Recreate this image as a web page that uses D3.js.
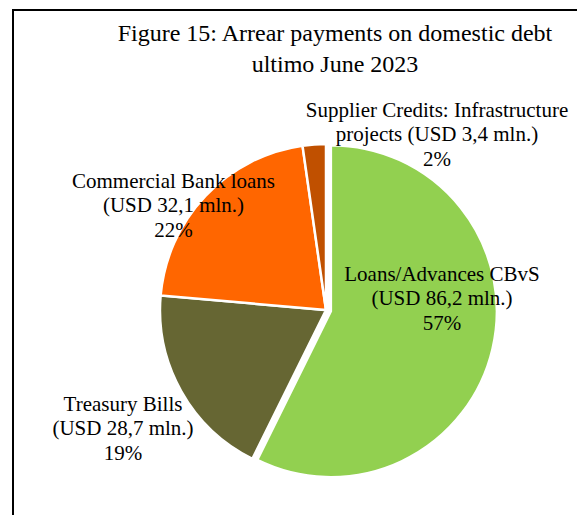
<!DOCTYPE html>
<html>
<head>
<meta charset="utf-8">
<script src="https://cdn.jsdelivr.net/npm/d3@7"></script>
<style>
  html, body { margin: 0; padding: 0; background: #fff; }
  svg { display: block; }
  text { font-family: "Liberation Serif", "Times New Roman", serif; fill: #000; }
</style>
</head>
<body>
<svg id="chart" width="577" height="515"></svg>
<script>
// Arrear payments on domestic debt, end of June 2023
const titleLines = ["Figure 15: Arrear payments on domestic debt", "ultimo June 2023"];
const categories = ["Loans/Advances CBvS", "Treasury Bills", "Commercial Bank loans", "Supplier Credits: Infrastructure projects"];
const amounts = [86.2, 28.7, 32.1, 3.4];            // USD mln.
const amountLabels = ["86,2", "28,7", "32,1", "3,4"];
const percentLabels = ["57%", "19%", "22%", "2%"];
const colors = ["#92D050", "#666633", "#FF6600", "#C05000"];

// label lines per slice (category name may wrap)
const labelLines = [
  ["Loans/Advances CBvS", "(USD " + amountLabels[0] + " mln.)", percentLabels[0]],
  ["Treasury Bills", "(USD " + amountLabels[1] + " mln.)", percentLabels[1]],
  ["Commercial Bank loans", "(USD " + amountLabels[2] + " mln.)", percentLabels[2]],
  ["Supplier Credits: Infrastructure", "projects (USD " + amountLabels[3] + " mln.)", percentLabels[3]]
];
const labelPos = [[442, 281], [123, 411], [173.5, 188], [437, 117]];

const svg = d3.select("#chart");

// frame
svg.append("path")
  .attr("d", "M13,515 L13,10 L577,10")
  .attr("fill", "none")
  .attr("stroke", "#000")
  .attr("stroke-width", 2);

// title
svg.append("text")
  .attr("text-anchor", "middle")
  .attr("font-size", 24)
  .selectAll("tspan")
  .data(titleLines)
  .join("tspan")
  .attr("x", 335)
  .attr("y", (d, i) => 41 + i * 31)
  .text(d => d);

const cx = 326, cy = 310, radius = 166;
const pie = d3.pie().sort(null).value(d => d).startAngle(0).endAngle(2 * Math.PI);
const arc = d3.arc().innerRadius(0).outerRadius(radius);
const arcs = pie(amounts);

const g = svg.append("g").attr("transform", `translate(${cx},${cy})`);
const explode = [5, 0, 0, 0];

g.selectAll("path.slice")
  .data(arcs)
  .join("path")
  .attr("class", "slice")
  .attr("d", arc)
  .attr("fill", (d, i) => colors[i])
  .attr("stroke", "#fff")
  .attr("stroke-width", 2.5)
  .attr("transform", (d, i) => {
    const a = (d.startAngle + d.endAngle) / 2;
    return `translate(${explode[i] * Math.sin(a)},${-explode[i] * Math.cos(a)})`;
  });

// labels
const labels = svg.append("g").attr("font-size", 21).attr("text-anchor", "middle");
labelLines.forEach((lines, i) => {
  labels.append("text")
    .selectAll("tspan")
    .data(lines)
    .join("tspan")
    .attr("x", labelPos[i][0])
    .attr("y", (d, j) => labelPos[i][1] + j * 24.3)
    .text(d => d);
});
</script>
</body>
</html>
